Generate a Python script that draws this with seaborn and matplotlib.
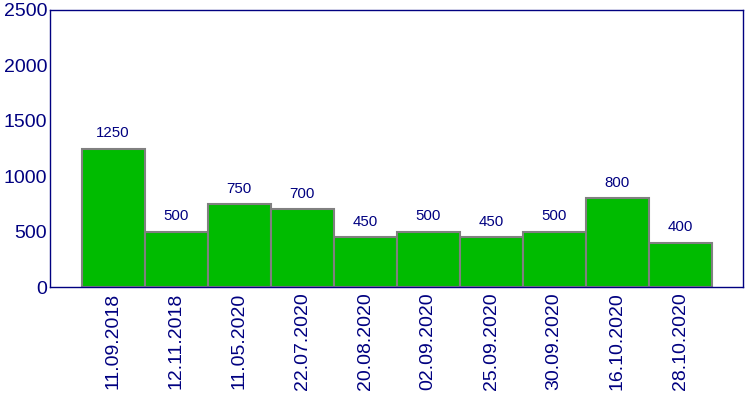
import matplotlib
matplotlib.use("Agg")
import matplotlib.pyplot as plt
import seaborn as sns
import pandas as pd

dates = ["11.09.2018", "12.11.2018", "11.05.2020", "22.07.2020", "20.08.2020",
         "02.09.2020", "25.09.2020", "30.09.2020", "16.10.2020", "28.10.2020"]
values = [1250, 500, 750, 700, 450, 500, 450, 500, 800, 400]

navy = "#000080"
sns.set_style("white")
plt.rcParams["font.family"] = ["Liberation Sans", "DejaVu Sans"]

df = pd.DataFrame({"date": dates, "value": values})

fig = plt.figure(figsize=(7.5, 4), dpi=100)
ax = fig.add_axes([0.0667, 0.2825, 0.924, 0.6925])
sns.barplot(data=df, x="date", y="value", color="#00bb00", saturation=1,
            width=1.0, edgecolor="#808080", linewidth=1.5, ax=ax)

ax.bar_label(ax.containers[0], labels=[str(v) for v in values],
             padding=6, color=navy, fontsize=10.8)

ax.set_xlim(-1, 10)
ax.set_ylim(0, 2500)
ax.set_yticks(range(0, 2501, 500))
ax.set_xlabel("")
ax.set_ylabel("")
ax.tick_params(axis="x", rotation=90, length=0, labelsize=14, labelcolor=navy, pad=4)
ax.tick_params(axis="y", direction="in", length=4, color=navy, labelsize=14,
               labelcolor=navy, pad=2)
for s in ax.spines.values():
    s.set_color(navy)
    s.set_linewidth(1.0)

fig.savefig("out.png", dpi=100)
